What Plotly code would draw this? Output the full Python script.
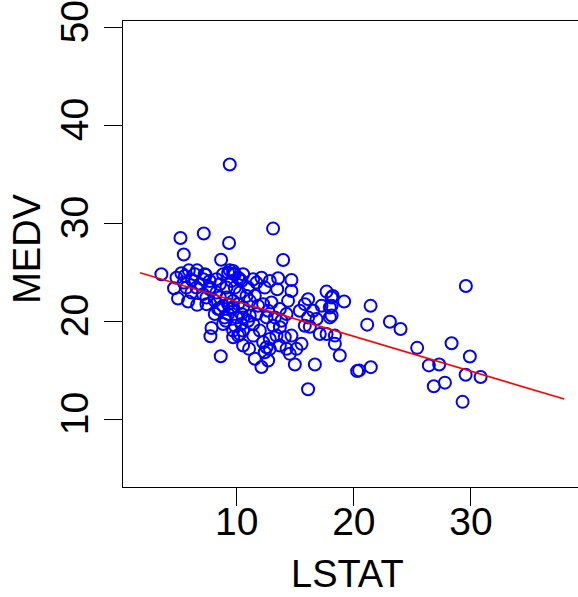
import plotly.graph_objects as go

# LSTAT (x) and MEDV (y) values
lstat = [9.40, 5.19, 7.18, 9.34, 5.47, 8.66, 13.10, 3.56,
         4.64, 4.98, 5.84, 6.61, 5.27, 5.90, 6.61, 7.35, 7.69, 5.47, 6.18, 6.92,
         7.69, 8.26, 9.12, 9.69, 10.11, 9.40, 10.40, 8.55, 8.83, 9.55, 10.11, 10.40,
         9.06, 9.83, 10.54, 10.97, 10.11, 7.84, 7.75, 8.63, 10.54, 11.05,
         13.96, 13.53, 14.67, 14.67, 13.45, 17.67, 18.09, 19.17, 17.24, 17.95, 17.95,
         16.09, 15.81, 16.09, 15.81, 16.24, 17.09, 17.67, 18.38, 18.38, 18.80, 16.67,
         16.09, 20.28, 14.96, 14.25, 15.10, 14.53, 12.54, 12.82, 12.39, 12.11, 11.54,
         12.68, 9.69, 10.40, 11.40, 11.97, 13.10, 13.68, 14.10, 14.25, 13.68, 12.96,
         12.25, 11.68, 12.54, 13.25, 11.11, 10.54, 9.97, 10.97, 11.68, 12.39, 9.83,
         9.55, 10.26, 9.12, 8.55, 7.69, 7.26, 7.41, 8.12, 8.97, 9.69, 15.53, 14.67,
         12.25, 13.82, 14.38, 15.38, 16.52, 16.81,
         29.57, 21.43, 21.14, 23.08, 23.99, 25.41, 28.35, 29.91, 26.41, 27.29, 29.55,
         30.83, 27.78, 26.83, 29.29, 20.45, 21.45, 18.10, 18.10, 18.20,
         9.26, 9.69, 10.54, 11.40, 12.11, 12.82, 10.83, 10.26, 11.54, 11.82, 12.68,
         11.11, 10.54, 9.26, 8.40, 8.83, 9.69, 10.26, 11.40, 12.82, 13.39, 13.68,
         4.85, 5.70, 6.13, 7.12, 7.41, 6.56, 6.41, 7.12, 5.56, 8.12, 8.55, 9.26,
         9.69, 8.26, 8.83, 9.83]
medv = [36.02, 28.52, 28.97, 28.01, 26.83, 26.29, 29.47, 24.81,
        23.39, 22.33, 22.03, 21.69, 24.91, 25.21, 25.21, 24.74, 24.13, 23.96, 24.23, 23.79,
        23.29, 22.94, 22.44, 24.87, 24.46, 25.21, 24.13, 23.79, 21.59, 21.26, 21.76, 20.75,
        20.07, 19.56, 19.06, 20.07, 18.55, 19.33, 18.48, 16.45, 17.54, 17.20,
        26.26, 24.40, 24.23, 23.11, 23.29, 23.04, 22.44, 22.03, 21.59, 21.42, 20.41,
        22.27, 21.76, 20.41, 19.56, 19.46, 18.72, 18.72, 18.55, 17.71, 16.52, 15.61,
        13.07, 14.93, 15.61, 17.20, 17.20, 16.69, 17.36, 17.20, 16.86, 15.34, 16.19,
        16.01, 19.06, 19.74, 19.74, 19.06, 19.56, 19.40, 18.38, 20.75, 21.26, 21.93,
        21.76, 20.75, 20.41, 20.41, 22.10, 21.42, 20.41, 23.45, 23.96, 23.45, 24.81,
        24.13, 24.30, 23.45, 22.44, 23.45, 24.81, 21.76, 20.75, 20.41, 21.42, 17.71, 18.55,
        17.87, 20.07, 22.10, 21.09, 21.09, 20.24,
        23.62, 21.59, 19.67, 19.97, 19.23, 17.30, 17.77, 16.42, 15.51, 15.61, 14.56,
        14.32, 13.75, 13.38, 11.79, 15.00, 15.33, 20.60, 21.60, 22.60,
        24.97, 25.14, 24.81, 24.30, 24.46, 24.13, 22.60, 22.94, 22.61, 21.59, 21.09,
        20.58, 20.41, 21.76, 21.26, 19.74, 18.38, 18.72, 18.55, 18.21, 18.55, 17.54,
        24.46, 23.45, 22.94, 22.78, 22.44, 23.45, 24.81, 24.30, 24.63, 22.10, 21.26, 20.75,
        22.10, 24.30, 24.81, 23.45]

# fitted regression line: MEDV = intercept + slope * LSTAT over the LSTAT range
fit_intercept = 25.59
fit_slope = -0.356
fit_x_range = [1.73, 37.97]
fit_y = [fit_intercept + fit_slope * v for v in fit_x_range]

x_ticks = [10, 20, 30]
y_ticks = [10, 20, 30, 40, 50]

FONT = "Liberation Sans, Arial, Helvetica, sans-serif"

fig = go.Figure()
fig.add_trace(go.Scatter(
    x=lstat, y=medv, mode="markers",
    marker=dict(symbol="circle-open", size=12, color="#0000FF",
                line=dict(width=2, color="#0000FF")),
    showlegend=False, hoverinfo="skip", cliponaxis=False))
fig.add_trace(go.Scatter(
    x=fit_x_range, y=fit_y, mode="lines",
    line=dict(color="#FF0000", width=1.6),
    showlegend=False, hoverinfo="skip"))

axis_common = dict(
    showline=True, linecolor="black", linewidth=1.3,
    ticks="outside", ticklen=18, tickwidth=1.3, tickcolor="black",
    showgrid=False, zeroline=False,
    tickfont=dict(family=FONT, size=39, color="black"),
)
fig.update_layout(
    width=578, height=597,
    margin=dict(l=123, r=0, t=19, b=110),
    paper_bgcolor="white", plot_bgcolor="white",
    xaxis=dict(range=[0.28, 39.15], tickvals=x_ticks, ticktext=[str(t) for t in x_ticks],
               mirror=True, ticklabelstandoff=-18, **axis_common),
    yaxis=dict(range=[3.1, 50.66], tickvals=y_ticks, ticktext=[str(t) for t in y_ticks],
               tickangle=-90, ticklabeloverflow="allow", **axis_common),
    annotations=[
        dict(text="LSTAT", xref="paper", yref="paper", x=0.4945, y=-0.187,
             xanchor="center", yanchor="middle", showarrow=False,
             font=dict(family=FONT, size=38, color="black")),
        dict(text="MEDV", xref="paper", yref="paper", x=-0.21, y=0.512,
             xanchor="center", yanchor="middle", textangle=-90, showarrow=False,
             font=dict(family=FONT, size=38, color="black")),
    ],
)
fig.write_html("out.html")
